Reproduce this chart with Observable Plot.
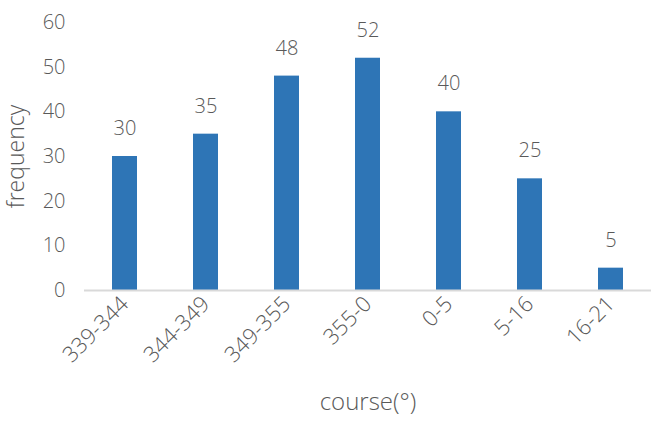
<!DOCTYPE html>
<html>
<head>
<meta charset="utf-8">
<script src="https://cdn.jsdelivr.net/npm/d3@7"></script>
<script src="https://cdn.jsdelivr.net/npm/@observablehq/plot@0.6"></script>
<style>
  html, body { margin: 0; padding: 0; background: #fff; }
</style>
</head>
<body>
<div id="chart"></div>
<script>
const categories = ["339-344", "344-349", "349-355", "355-0", "0-5", "5-16", "16-21"];
const frequencies = [30, 35, 48, 52, 40, 25, 5];
const yTicks = [0, 10, 20, 30, 40, 50, 60];
const xTitle = "course(°)";
const yTitle = "frequency";

const data = categories.map((c, i) => ({course: c, frequency: frequencies[i]}));
const font = "'Open Sans', 'Noto Sans', sans-serif";
const textColor = "#595959";

const chart = Plot.plot({
  width: 651,
  height: 423,
  marginTop: 22,
  marginBottom: 133,
  marginLeft: 84,
  marginRight: 0,
  style: {fontFamily: font, fontSize: "20px", fontWeight: 300, color: textColor, background: "#fff"},
  x: {domain: categories, paddingInner: 0.69, paddingOuter: 0.345, align: 0.5},
  y: {domain: [0, 60]},
  marks: [
    Plot.axisY({ticks: yTicks, tickSize: 0, tickPadding: 19, label: null, fill: textColor, fontSize: 20}),
    Plot.axisX({tickSize: 0, tickRotate: -45, tickPadding: 10, label: null, fill: textColor, fontSize: 22}),
    Plot.barY(data, {x: "course", y: "frequency", fill: "#2E75B6"}),
    Plot.ruleY([0], {stroke: "#D9D9D9", strokeWidth: 2}),
    Plot.text(data, {x: "course", y: "frequency", text: d => String(d.frequency), dy: -28, fill: textColor, fontSize: 20}),
    Plot.text([xTitle], {frameAnchor: "bottom", dy: 119, fill: textColor, fontSize: 24, text: d => d}),
    Plot.text([yTitle], {frameAnchor: "left", dx: -68, rotate: -90, textAnchor: "middle", fill: textColor, fontSize: 23, text: d => d})
  ]
});
document.getElementById("chart").appendChild(chart);
</script>
</body>
</html>
